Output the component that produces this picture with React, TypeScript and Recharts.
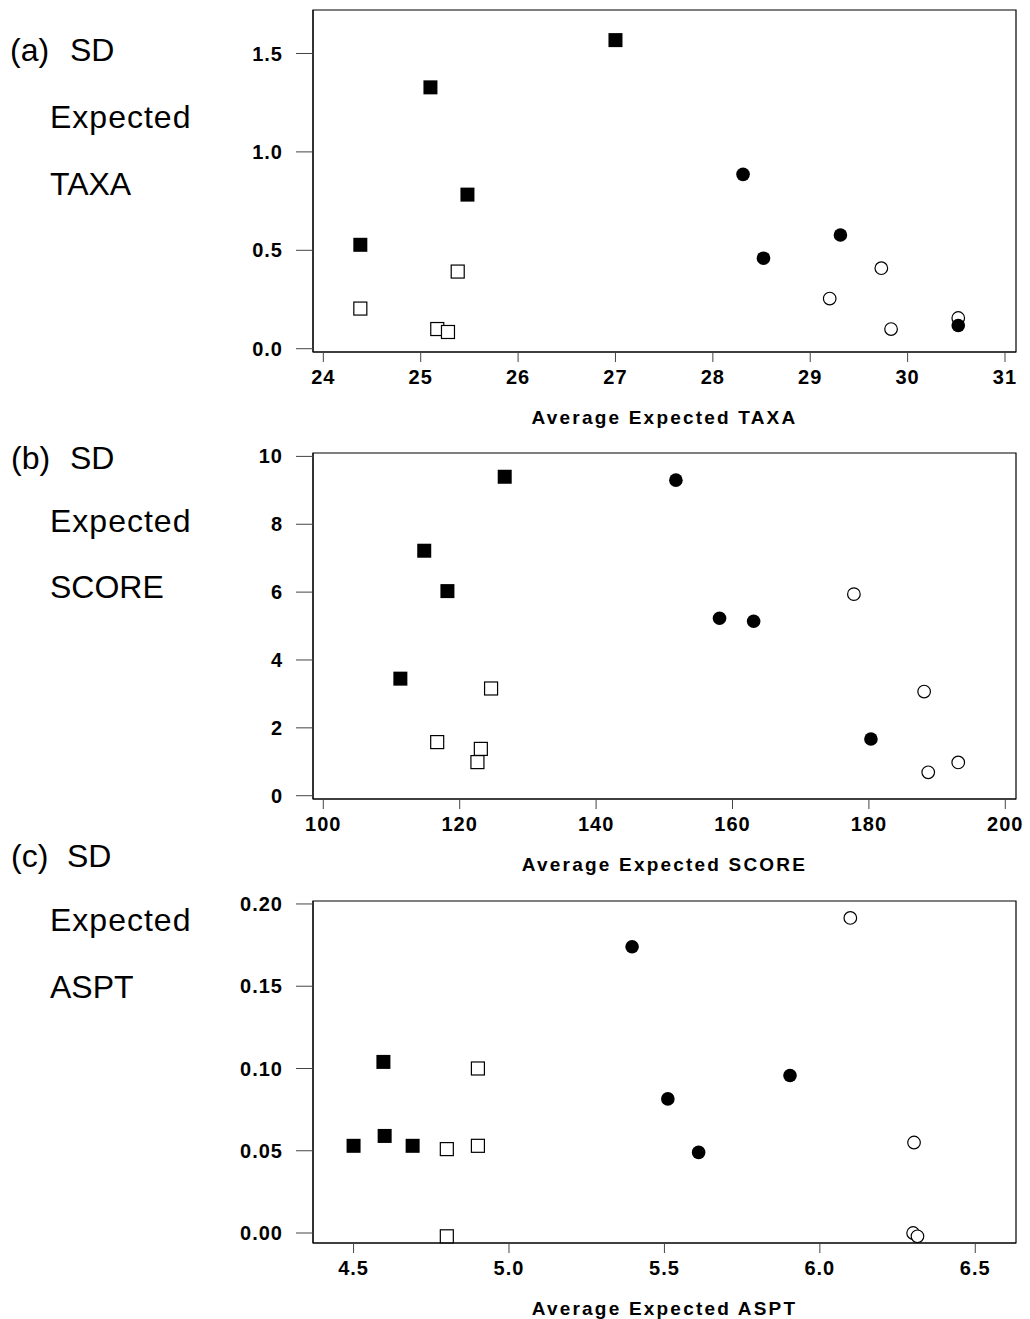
import { ScatterChart, Scatter, XAxis, YAxis, ReferenceArea } from "recharts";

// (a) TAXA
const taxaFilledSqX = [24.38, 25.1, 25.48, 27.0];
const taxaFilledSqY = [0.528, 1.328, 0.783, 1.568];
const taxaOpenSqX = [24.38, 25.17, 25.28, 25.38];
const taxaOpenSqY = [0.204, 0.1, 0.085, 0.392];
const taxaFilledCircX = [28.31, 28.52, 29.31, 30.52];
const taxaFilledCircY = [0.886, 0.46, 0.578, 0.118];
const taxaOpenCircX = [29.2, 29.73, 29.83, 30.52];
const taxaOpenCircY = [0.255, 0.409, 0.1, 0.156];
const taxaXTicks = [24, 25, 26, 27, 28, 29, 30, 31];
const taxaYTicks = [0, 0.5, 1.0, 1.5];

// (b) SCORE
const scoreFilledSqX = [126.6, 114.8, 118.2, 111.3];
const scoreFilledSqY = [9.4, 7.22, 6.03, 3.45];
const scoreOpenSqX = [124.6, 116.7, 123.1, 122.6];
const scoreOpenSqY = [3.16, 1.58, 1.38, 0.99];
const scoreFilledCircX = [151.7, 158.1, 163.1, 180.3];
const scoreFilledCircY = [9.3, 5.23, 5.14, 1.67];
const scoreOpenCircX = [177.8, 188.1, 188.7, 193.1];
const scoreOpenCircY = [5.94, 3.07, 0.69, 0.98];
const scoreXTicks = [100, 120, 140, 160, 180, 200];
const scoreYTicks = [0, 2, 4, 6, 8, 10];

// (c) ASPT
const asptFilledSqX = [4.5, 4.596, 4.6, 4.69];
const asptFilledSqY = [0.053, 0.104, 0.059, 0.053];
const asptOpenSqX = [4.8, 4.9, 4.9, 4.8];
const asptOpenSqY = [0.051, 0.1, 0.053, -0.002];
const asptFilledCircX = [5.396, 5.511, 5.61, 5.904];
const asptFilledCircY = [0.174, 0.0815, 0.049, 0.0957];
const asptOpenCircX = [6.098, 6.303, 6.3, 6.314];
const asptOpenCircY = [0.1915, 0.055, 0.0, -0.002];
const asptXTicks = [4.5, 5.0, 5.5, 6.0, 6.5];
const asptYTicks = [0, 0.05, 0.1, 0.15, 0.2];

const FONT = '"Liberation Sans", Arial, Helvetica, sans-serif';

const zip = (xs: number[], ys: number[]) => xs.map((x, i) => ({ x, y: ys[i] }));

const filledSquare = (p: any) => (
  <rect x={p.cx - 7} y={p.cy - 7} width={14} height={14} fill="#000" />
);
const openSquare = (p: any) => (
  <rect x={p.cx - 6.5} y={p.cy - 6.5} width={13} height={13} fill="#fff" stroke="#000" strokeWidth={1.2} />
);
const filledCircle = (p: any) => <circle cx={p.cx} cy={p.cy} r={6.8} fill="#000" />;
const openCircle = (p: any) => (
  <circle cx={p.cx} cy={p.cy} r={6.3} fill="#fff" stroke="#000" strokeWidth={1.2} />
);

type PanelProps = {
  boxTop: number;
  boxBottom: number;
  xDomain: [number, number];
  yDomain: [number, number];
  xTicks: number[];
  yTicks: number[];
  xFmt: (v: number) => string;
  yFmt: (v: number) => string;
  title: string;
  filledSq: { x: number; y: number }[];
  openSq: { x: number; y: number }[];
  filledCirc: { x: number; y: number }[];
  openCirc: { x: number; y: number }[];
};

const tickStyle = { fontSize: 20, fontWeight: 700, fill: "#000", fontFamily: FONT, letterSpacing: 1 };

const Panel = (p: PanelProps) => {
  const h = p.boxBottom - p.boxTop + 10 + 80;
  return (
    <div style={{ position: "absolute", left: 0, top: p.boxTop - 10 }}>
      <ScatterChart width={1030} height={h} margin={{ top: 10, right: 14, bottom: 0, left: 0 }}>
        <XAxis
          type="number"
          dataKey="x"
          domain={p.xDomain}
          ticks={p.xTicks}
          tickFormatter={p.xFmt}
          height={80}
          tickSize={10}
          tickMargin={8}
          stroke="#000"
          tickLine={{ stroke: "#444" }}
          tick={tickStyle}
          interval={0}
          label={{
            value: p.title,
            position: "insideBottom",
            offset: 8,
            fontSize: 19,
            fontWeight: 700,
            fill: "#000",
            fontFamily: FONT,
            letterSpacing: 2.2,
          }}
        />
        <YAxis
          type="number"
          dataKey="y"
          domain={p.yDomain}
          ticks={p.yTicks}
          tickFormatter={p.yFmt}
          width={313}
          tickSize={17}
          tickMargin={13}
          stroke="#000"
          tickLine={{ stroke: "#444" }}
          tick={tickStyle}
          interval={0}
        />
        <ReferenceArea
          x1={p.xDomain[0]}
          x2={p.xDomain[1]}
          y1={p.yDomain[0]}
          y2={p.yDomain[1]}
          fill="none"
          fillOpacity={0}
          stroke="#000"
          strokeWidth={1.2}
        />
        <Scatter data={p.openSq} shape={openSquare} isAnimationActive={false} />
        <Scatter data={p.filledSq} shape={filledSquare} isAnimationActive={false} />
        <Scatter data={p.openCirc} shape={openCircle} isAnimationActive={false} />
        <Scatter data={p.filledCirc} shape={filledCircle} isAnimationActive={false} />
      </ScatterChart>
    </div>
  );
};

const SideLabel = ({ tag, tagX, sdX, name, y1, y2, y3 }: any) => (
  <>
    <text x={tagX} y={y1}>{tag}</text>
    <text x={sdX} y={y1}>SD</text>
    <text x={50} y={y2} letterSpacing={1}>Expected</text>
    <text x={50} y={y3}>{name}</text>
  </>
);

export default function App() {
  return (
    <div
      style={{
        position: "absolute",
        left: 0,
        top: 0,
        width: 1030,
        height: 1319,
        overflow: "hidden",
        background: "#fff",
      }}
    >
      <Panel
        boxTop={10}
        boxBottom={352}
        xDomain={[23.894, 31.113]}
        yDomain={[-0.0167, 1.721]}
        xTicks={taxaXTicks}
        yTicks={taxaYTicks}
        xFmt={(v) => String(v)}
        yFmt={(v) => v.toFixed(1)}
        title="Average Expected TAXA"
        filledSq={zip(taxaFilledSqX, taxaFilledSqY)}
        openSq={zip(taxaOpenSqX, taxaOpenSqY)}
        filledCirc={zip(taxaFilledCircX, taxaFilledCircY)}
        openCirc={zip(taxaOpenCircX, taxaOpenCircY)}
      />
      <Panel
        boxTop={453}
        boxBottom={799}
        xDomain={[98.49, 201.57]}
        yDomain={[-0.097, 10.1]}
        xTicks={scoreXTicks}
        yTicks={scoreYTicks}
        xFmt={(v) => String(v)}
        yFmt={(v) => String(v)}
        title="Average Expected SCORE"
        filledSq={zip(scoreFilledSqX, scoreFilledSqY)}
        openSq={zip(scoreOpenSqX, scoreOpenSqY)}
        filledCirc={zip(scoreFilledCircX, scoreFilledCircY)}
        openCirc={zip(scoreOpenCircX, scoreOpenCircY)}
      />
      <Panel
        boxTop={901}
        boxBottom={1243}
        xDomain={[4.3695, 6.631]}
        yDomain={[-0.00607, 0.2018]}
        xTicks={asptXTicks}
        yTicks={asptYTicks}
        xFmt={(v) => v.toFixed(1)}
        yFmt={(v) => v.toFixed(2)}
        title="Average Expected ASPT"
        filledSq={zip(asptFilledSqX, asptFilledSqY)}
        openSq={zip(asptOpenSqX, asptOpenSqY)}
        filledCirc={zip(asptFilledCircX, asptFilledCircY)}
        openCirc={zip(asptOpenCircX, asptOpenCircY)}
      />
      <svg
        width={300}
        height={1319}
        style={{ position: "absolute", left: 0, top: 0 }}
        fontFamily={FONT}
        fontSize={32}
        fill="#000"
      >
        <SideLabel tag="(a)" tagX={10} sdX={70} name="TAXA" y1={61} y2={128} y3={195} />
        <SideLabel tag="(b)" tagX={11} sdX={70} name="SCORE" y1={469} y2={532} y3={598} />
        <SideLabel tag="(c)" tagX={11} sdX={67} name="ASPT" y1={867} y2={931} y3={998} />
      </svg>
    </div>
  );
}
